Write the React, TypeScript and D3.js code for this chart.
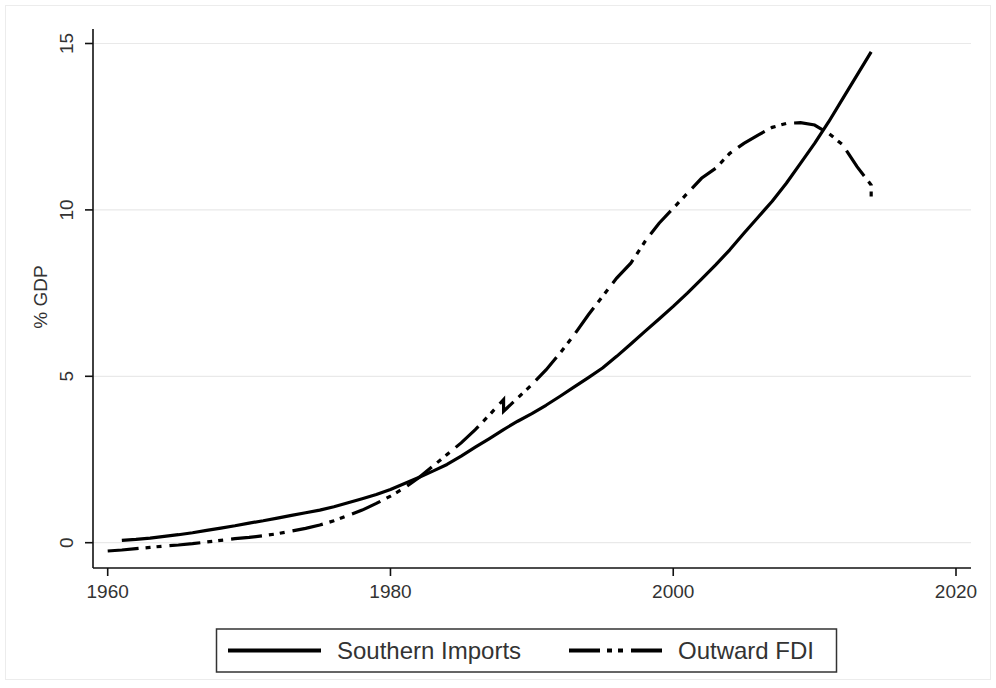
import React from "react";
import * as d3 from "d3";

const importYears = [1961,1962,1963,1964,1965,1966,1967,1968,1969,1970,1971,1972,1973,1974,1975,1976,1977,1978,1979,1980,1981,1982,1983,1984,1985,1986,1987,1988,1989,1990,1991,1992,1993,1994,1995,1996,1997,1998,1999,2000,2001,2002,2003,2004,2005,2006,2007,2008,2009,2010,2011,2012,2013,2014];
const importValues = [0.07,0.10,0.14,0.19,0.24,0.30,0.37,0.44,0.51,0.59,0.66,0.74,0.82,0.90,0.98,1.08,1.20,1.32,1.45,1.60,1.78,1.96,2.15,2.35,2.60,2.87,3.13,3.40,3.65,3.88,4.13,4.40,4.68,4.96,5.25,5.60,5.97,6.35,6.72,7.10,7.50,7.92,8.35,8.80,9.30,9.78,10.26,10.80,11.40,12.00,12.65,13.35,14.05,14.75];

const fdiYears = [1960,1961,1962,1963,1964,1965,1966,1967,1968,1969,1970,1971,1972,1973,1974,1975,1976,1977,1978,1979,1980,1981,1982,1983,1984,1985,1986,1987,1988,1988,1989,1990,1991,1992,1993,1994,1995,1996,1997,1998,1999,2000,2001,2002,2003,2004,2005,2006,2007,2008,2009,2010,2011,2012,2013,2014,2014];
const fdiValues = [-0.25,-0.22,-0.18,-0.14,-0.10,-0.07,-0.03,0.02,0.07,0.12,0.16,0.21,0.27,0.35,0.43,0.53,0.66,0.82,0.98,1.18,1.40,1.65,1.95,2.30,2.65,3.00,3.40,3.84,4.30,3.95,4.35,4.75,5.19,5.70,6.25,6.85,7.40,7.95,8.40,9.05,9.60,10.05,10.50,10.95,11.25,11.70,12.00,12.25,12.48,12.60,12.62,12.55,12.30,11.95,11.30,10.75,10.40];

const yTicks = [0, 5, 10, 15];
const xTicks = [1960, 1980, 2000, 2020];
const seriesNames = ["Southern Imports", "Outward FDI"];
const yTitle = "% GDP";

const W = 996;
const H = 688;
const FONT = "'Liberation Sans', Arial, sans-serif";
const DASH = "31,7,5,6,5,8";

export default function App() {
  const x = d3.scaleLinear().domain([1960, 2020]).range([107.7, 956]);
  const y = d3.scaleLinear().domain([0, 15]).range([542.7, 43.5]);
  const axisLeft = 93;
  const axisRight = 971;
  const axisBottom = 568;
  const axisTop = 29;

  const line = d3
    .line<[number, number]>()
    .x((d) => x(d[0]))
    .y((d) => y(d[1]));

  const impPts = importYears.map((yr, i) => [yr, importValues[i]] as [number, number]);
  const fdiPts = fdiYears.map((yr, i) => [yr, fdiValues[i]] as [number, number]);

  return (
    <svg
      width={W}
      height={H}
      style={{ position: "absolute", left: 0, top: 0, background: "#fff" }}
      fontFamily={FONT}
    >
      <rect x={5.5} y={5.5} width={985} height={674} fill="#fff" stroke="#ececec" strokeWidth={1} />
      {/* grid */}
      {yTicks.map((t) => (
        <line key={"g" + t} x1={axisLeft} x2={axisRight} y1={y(t)} y2={y(t)} stroke="#e9e9e9" strokeWidth={1.2} />
      ))}
      {/* axes */}
      <line x1={axisLeft} x2={axisLeft} y1={axisTop} y2={axisBottom} stroke="#111" strokeWidth={1.6} />
      <line x1={axisLeft} x2={axisRight} y1={axisBottom} y2={axisBottom} stroke="#111" strokeWidth={1.6} />
      {yTicks.map((t) => (
        <g key={"yt" + t}>
          <line x1={axisLeft - 8} x2={axisLeft} y1={y(t)} y2={y(t)} stroke="#111" strokeWidth={1.6} />
          <text
            transform={`translate(73,${y(t)}) rotate(-90)`}
            textAnchor="middle"
            fontSize={19}
            fill="#333"
          >
            {t}
          </text>
        </g>
      ))}
      {xTicks.map((t) => (
        <g key={"xt" + t}>
          <line x1={x(t)} x2={x(t)} y1={axisBottom} y2={axisBottom + 8} stroke="#111" strokeWidth={1.6} />
          <text x={x(t)} y={598} textAnchor="middle" fontSize={19} fill="#333">
            {t}
          </text>
        </g>
      ))}
      <text transform={`translate(47,297) rotate(-90)`} textAnchor="middle" fontSize={19} fill="#333">
        {yTitle}
      </text>
      {/* series */}
      <path d={line(fdiPts) || ""} fill="none" stroke="#000" strokeWidth={3.2} strokeDasharray={DASH} />
      <path d={line(impPts) || ""} fill="none" stroke="#000" strokeWidth={3.2} strokeLinejoin="round" />
      {/* legend */}
      <rect x={216.5} y={629} width={620} height={43} fill="#fff" stroke="#333" strokeWidth={1.5} />
      <line x1={228} x2={321} y1={650.5} y2={650.5} stroke="#000" strokeWidth={4} />
      <text x={337} y={659} fontSize={24} fill="#333">
        {seriesNames[0]}
      </text>
      <line x1={569} x2={662} y1={650.5} y2={650.5} stroke="#000" strokeWidth={4} strokeDasharray={DASH} />
      <text x={678} y={659} fontSize={24} fill="#333">
        {seriesNames[1]}
      </text>
    </svg>
  );
}
